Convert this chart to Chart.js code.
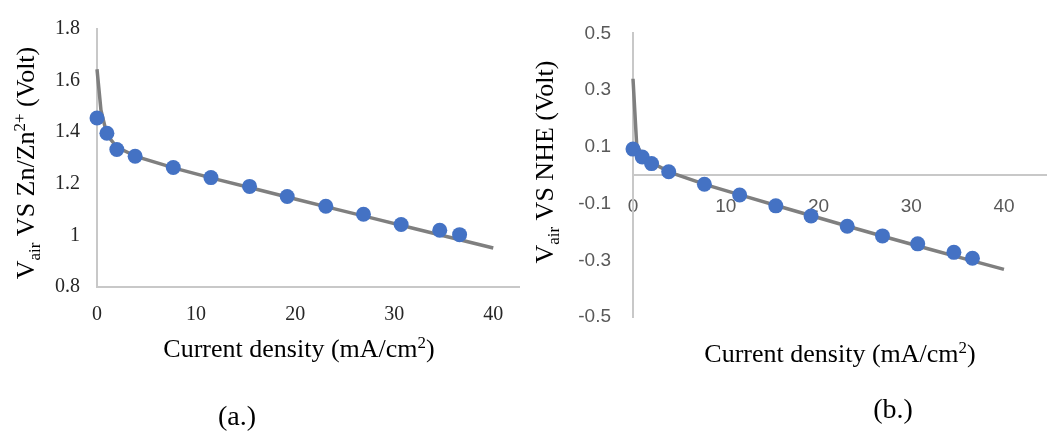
<!DOCTYPE html>
<html>
<head>
<meta charset="utf-8">
<script src="https://cdn.jsdelivr.net/npm/chart.js@4.4.1/dist/chart.umd.min.js"></script>
<style>
  body { margin: 0; background: #fff; }
  #wrap { position: relative; width: 1047px; height: 432px; }
  canvas { position: absolute; top: 0; }
</style>
</head>
<body>
<div id="wrap">
  <canvas id="chartA" width="520" height="432" style="left:0"></canvas>
  <canvas id="chartB" width="527" height="432" style="left:520px"></canvas>
</div>
<script>
// measured points (same current densities in both panels)
const currentDensity = [0, 1, 2, 3.85, 7.7, 11.5, 15.4, 19.2, 23.1, 26.9, 30.7, 34.6, 36.6];
const voltZn = [1.455, 1.396, 1.333, 1.307, 1.263, 1.224, 1.19, 1.151, 1.113, 1.082, 1.042, 1.02, 1.003];
const voltNHE = [0.092, 0.064, 0.041, 0.012, -0.032, -0.07, -0.108, -0.144, -0.18, -0.214, -0.242, -0.272, -0.293];

// fitted curve
const fitX = [0, 0.4, 1, 2, 4, 8, 12, 16, 20, 24, 28, 32, 36, 40];
const fitZn = [1.644, 1.485, 1.39, 1.342, 1.305, 1.259, 1.218, 1.18, 1.141, 1.103, 1.065, 1.027, 0.989, 0.951];
const fitNHE = [0.34, 0.105, 0.073, 0.045, 0.01, -0.035, -0.074, -0.112, -0.15, -0.188, -0.225, -0.261, -0.297, -0.332];

// tick labels
const xTicks = [0, 10, 20, 30, 40];
const yTicksA = [0.8, 1, 1.2, 1.4, 1.6, 1.8];
const yTicksB = [-0.5, -0.3, -0.1, 0.1, 0.3, 0.5];

const SERIF = "'Liberation Serif', 'Times New Roman', serif";
const SANS = "'Liberation Sans', Arial, sans-serif";

function pairs(xs, ys) {
  return xs.map((x, i) => ({ x: x, y: ys[i] }));
}

// draws text with sub/superscripts (axis titles and panel labels)
const richText = {
  id: 'richText',
  afterDraw(chart, args, opts) {
    const ctx = chart.ctx;
    for (const item of opts.items) {
      ctx.save();
      ctx.translate(item.x, item.y);
      if (item.rotate) ctx.rotate(item.rotate);
      const parts = item.parts.map(p => {
        const s = (p.sub || p.sup) ? item.size * 0.65 : item.size;
        ctx.font = s + 'px ' + SERIF;
        return {
          t: p.t, s: s, w: ctx.measureText(p.t).width,
          dy: p.sub ? item.size * 0.22 : p.sup ? -item.size * 0.36 : 0
        };
      });
      let x = -parts.reduce((a, p) => a + p.w, 0) / 2;
      ctx.fillStyle = '#000';
      ctx.textBaseline = 'alphabetic';
      for (const p of parts) {
        ctx.font = p.s + 'px ' + SERIF;
        ctx.fillText(p.t, x, p.dy);
        x += p.w;
      }
      ctx.restore();
    }
  }
};

const xTitleParts = [{ t: 'Current density (mA/cm' }, { t: '2', sup: true }, { t: ')' }];

function datasets(ys, fit) {
  return [
    {
      data: pairs(currentDensity, ys),
      backgroundColor: '#4472c4',
      borderWidth: 0,
      pointRadius: 7.5,
      showLine: false,
      clip: false,
      order: 0
    },
    {
      data: pairs(fitX, fit),
      borderColor: '#7f7f7f',
      borderWidth: 3.5,
      pointRadius: 0,
      showLine: true,
      tension: 0,
      clip: false,
      order: 1
    }
  ];
}

new Chart(document.getElementById('chartA'), {
  type: 'scatter',
  data: { datasets: datasets(voltZn, fitZn) },
  options: {
    responsive: false,
    animation: false,
    layout: { autoPadding: false, padding: { top: 20, right: 0, bottom: 0, left: 0 } },
    scales: {
      x: {
        type: 'linear', min: 0, max: 42.7,
        afterBuildTicks: s => { s.ticks = xTicks.map(v => ({ value: v })); },
        afterFit: s => { s.height = 145; },
        grid: { display: false, drawTicks: false },
        border: { color: '#c8c8c8', width: 2 },
        ticks: { font: { family: SERIF, size: 20 }, color: '#262626', padding: 16 }
      },
      y: {
        min: 0.8, max: 1.8,
        afterBuildTicks: s => { s.ticks = yTicksA.map(v => ({ value: v })); },
        afterFit: s => { s.width = 97; },
        grid: { display: false, drawTicks: false },
        border: { color: '#c8c8c8', width: 2 },
        ticks: { font: { family: SERIF, size: 20 }, color: '#262626', padding: 17, callback: v => String(v) }
      }
    },
    plugins: {
      legend: { display: false },
      tooltip: { enabled: false },
      richText: {
        items: [
          { x: 34, y: 163, rotate: -Math.PI / 2, size: 26,
            parts: [{ t: 'V' }, { t: 'air', sub: true }, { t: ' VS Zn/Zn' }, { t: '2+', sup: true }, { t: ' (Volt)' }] },
          { x: 299, y: 357, size: 26, parts: xTitleParts },
          { x: 237, y: 425, size: 28, parts: [{ t: '(a.)' }] }
        ]
      }
    }
  },
  plugins: [richText]
});

new Chart(document.getElementById('chartB'), {
  type: 'scatter',
  data: { datasets: datasets(voltNHE, fitNHE) },
  options: {
    responsive: false,
    animation: false,
    layout: { autoPadding: false, padding: { top: 32, right: 0, bottom: 115, left: 0 } },
    scales: {
      x: {
        type: 'linear', min: 0, max: 44.64,
        position: { y: 0 },
        afterBuildTicks: s => { s.ticks = xTicks.map(v => ({ value: v })); },
        grid: { display: false, drawTicks: false },
        border: { color: '#c8c8c8', width: 2 },
        ticks: { font: { family: SANS, size: 19 }, color: '#595959', padding: 20 }
      },
      y: {
        min: -0.5, max: 0.5,
        afterBuildTicks: s => { s.ticks = yTicksB.map(v => ({ value: v })); },
        afterFit: s => { s.width = 113; },
        grid: { display: false, drawTicks: false },
        border: { color: '#c8c8c8', width: 2 },
        ticks: { font: { family: SANS, size: 19 }, color: '#595959', padding: 22, callback: v => String(v) }
      }
    },
    plugins: {
      legend: { display: false },
      tooltip: { enabled: false },
      richText: {
        items: [
          { x: 33, y: 162, rotate: -Math.PI / 2, size: 26,
            parts: [{ t: 'V' }, { t: 'air', sub: true }, { t: ' VS NHE (Volt)' }] },
          { x: 320, y: 362, size: 26, parts: xTitleParts },
          { x: 373, y: 418, size: 28, parts: [{ t: '(b.)' }] }
        ]
      }
    }
  },
  plugins: [richText]
});
</script>
</body>
</html>
